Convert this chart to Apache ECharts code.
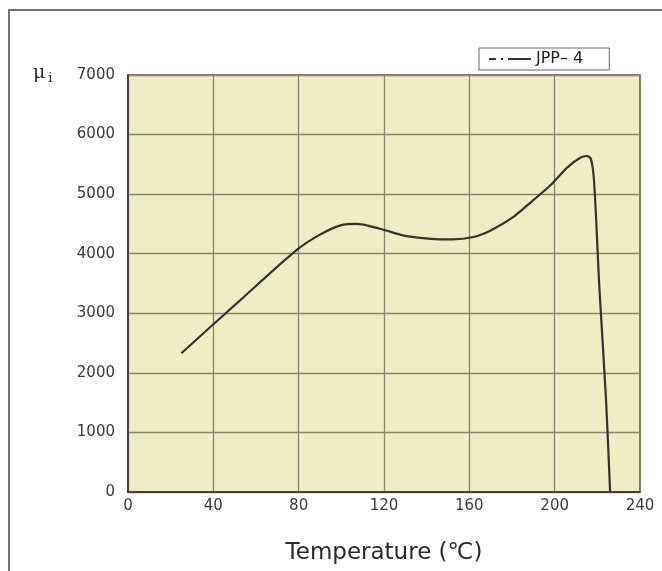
<!DOCTYPE html>
<html><head><meta charset="utf-8">
<script src="https://cdn.jsdelivr.net/npm/echarts@6/dist/echarts.min.js"></script>
<style>html,body{margin:0;padding:0;background:#fff}#c{width:662px;height:571px}</style>
</head><body><div id="c"></div>
<script>
const seriesName = 'JPP\u2013 4';
const temps = [25, 52, 79, 90, 100, 107, 118, 130, 142, 152, 162, 170, 180, 190, 198, 206, 212, 215, 217, 218.5, 221, 224, 226];
const mu = [2330, 3200, 4060, 4320, 4480, 4500, 4420, 4300, 4250, 4240, 4280, 4390, 4600, 4900, 5150, 5450, 5610, 5640, 5590, 5200, 3400, 1600, 0];
const xTicks = [0, 40, 80, 120, 160, 200, 240];
const yTicks = [0, 1000, 2000, 3000, 4000, 5000, 6000, 7000];

const chart = echarts.init(document.getElementById('c'));
const font = 'DejaVu Sans, Arial, sans-serif';
chart.setOption({
  backgroundColor: '#ffffff',
  animation: false,
  grid: { left: 128, right: 22, top: 75, bottom: 79, show: true, backgroundColor: '#efedc6', borderColor: '#505048', borderWidth: 1.5 },
  legend: {
    data: [seriesName], left: 479, top: 48, orient: 'horizontal',
    borderColor: '#666', borderWidth: 1, padding: [3, 26, 3, 10], itemGap: 4,
    itemWidth: 42, itemHeight: 5,
    icon: 'path://M0,1h7v2h-7z M12,1h2v2h-2z M19,1h23v2h-23z',
    textStyle: { fontFamily: font, fontSize: 16, color: '#1e1e1e' }
  },
  xAxis: {
    type: 'value', min: 0, max: 240, interval: 40,
    axisLine: { show: true, lineStyle: { color: '#303030', width: 1.5 } },
    axisTick: { show: false },
    splitLine: { show: true, lineStyle: { color: '#86866a', width: 1.3 } },
    axisLabel: { fontFamily: font, fontSize: 15, color: '#3a3a3a', margin: 7,
      formatter: v => xTicks.includes(v) ? String(v) : '' },
    name: 'Temperature (\u2103)', nameLocation: 'middle', nameGap: 50,
    nameTextStyle: { fontFamily: font, fontSize: 23, color: '#2a2a2a' }
  },
  yAxis: {
    type: 'value', min: 0, max: 7000, interval: 1000,
    axisLine: { show: true, lineStyle: { color: '#303030', width: 1.5 } },
    axisTick: { show: false },
    splitLine: { show: true, lineStyle: { color: '#86866a', width: 1.3 } },
    axisLabel: { fontFamily: font, fontSize: 15, color: '#3a3a3a', margin: 13,
      formatter: v => yTicks.includes(v) ? String(v) : '' }
  },
  graphic: [
    { type: 'rect', shape: { x: 9, y: 10, width: 700, height: 600 }, style: { fill: 'none', stroke: '#444', lineWidth: 1.5 }, z: -1 },
    { type: 'text', left: 33, top: 64, style: { rich: { m: { fontFamily: 'DejaVu Serif, serif', fontSize: 19, fill: '#2a2a2a' }, s: { fontFamily: 'DejaVu Serif, serif', fontSize: 13, fill: '#2a2a2a', padding: [10, 0, 0, 3] } }, text: '{m|\u03bc}{s|i}' } }
  ],
  series: [{
    name: seriesName, type: 'line', smooth: 0.3, showSymbol: false,
    data: temps.map((t, i) => [t, mu[i]]),
    lineStyle: { color: '#33332a', width: 2.2 }, itemStyle: { color: '#33332a' }
  }]
});
</script></body></html>
